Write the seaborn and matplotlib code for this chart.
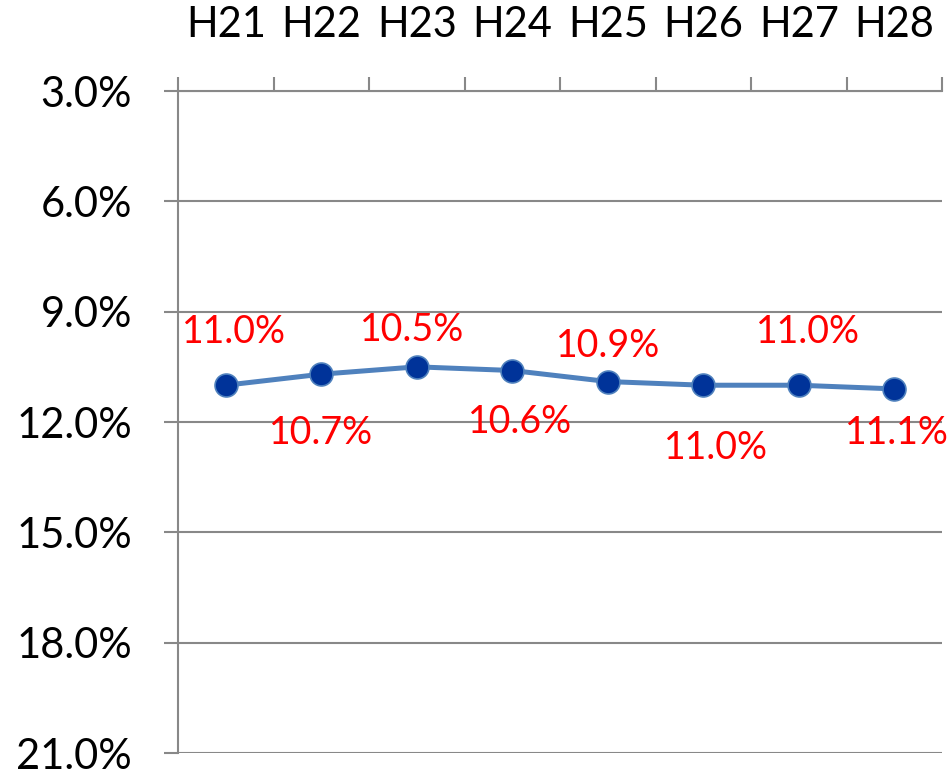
import matplotlib
matplotlib.use("Agg")
import matplotlib.pyplot as plt
import seaborn as sns
import pandas as pd
import numpy as np
from matplotlib.ticker import FixedLocator, FuncFormatter

categories = ["H21", "H22", "H23", "H24", "H25", "H26", "H27", "H28"]
values = [11.0, 10.7, 10.5, 10.6, 10.9, 11.0, 11.0, 11.1]
y_ticks = [3.0, 6.0, 9.0, 12.0, 15.0, 18.0, 21.0]

# label placement (pixel offsets from each point; positive dy = up)
label_dx = [8, 0, -5, 8, 0, 13, 9, 3]
label_dy = [53, -59, 37, -51, 36, -63, 53, -44]

sns.set_style("white")
plt.rcParams["font.family"] = ["Lato", "DejaVu Sans"]

df = pd.DataFrame({"cat": categories, "x": np.arange(len(categories)), "val": values})

W, H = 951, 770
fig = plt.figure(figsize=(W / 100, H / 100), dpi=100)
ax = fig.add_axes([178 / W, 1 - 753 / H, (942 - 178) / W, (753 - 91) / H])

sns.lineplot(data=df, x="x", y="val", ax=ax, color="#4F81BD", linewidth=3.6,
             marker="o", markersize=16.5, markerfacecolor="#003399",
             markeredgecolor="#4F81BD", markeredgewidth=1.2, zorder=5, clip_on=False)

ax.set_xlim(-0.5, len(categories) - 0.5)
ax.set_ylim(21.0, 3.0)

grid_c = "#888888"
ax.yaxis.set_major_locator(FixedLocator(y_ticks))
ax.yaxis.set_major_formatter(FuncFormatter(lambda v, p: f"{v:.1f}%"))
ax.yaxis.grid(True, color=grid_c, linewidth=1.5)
ax.xaxis.grid(False)
ax.tick_params(axis="y", which="major", length=10, width=1.5, color=grid_c,
               pad=23, labelsize=30, labelcolor="black", left=True)

ax.xaxis.tick_top()
ax.set_xticks(np.arange(len(categories)))
ax.set_xticklabels(categories)
ax.set_xticks(np.arange(-0.5, len(categories)), minor=True)
ax.tick_params(axis="x", which="major", length=0, pad=34, labelsize=30,
               labelcolor="black", top=True, bottom=False)
ax.tick_params(axis="x", which="minor", length=10, width=1.5, color=grid_c,
               direction="out", top=True, bottom=False)

for s in ["right", "bottom"]:
    ax.spines[s].set_visible(False)
for s in ["left", "top"]:
    ax.spines[s].set_visible(True)
    ax.spines[s].set_color(grid_c)
    ax.spines[s].set_linewidth(1.5)

ax.set_xlabel("")
ax.set_ylabel("")

for i, v in enumerate(values):
    ax.annotate(f"{v:.1f}%", (i, v), xytext=(label_dx[i], label_dy[i]),
                textcoords="offset pixels", ha="center", va="center",
                color="#FF0000", fontsize=27,
                annotation_clip=False, clip_on=False)

fig.savefig("out.png", dpi=100)
